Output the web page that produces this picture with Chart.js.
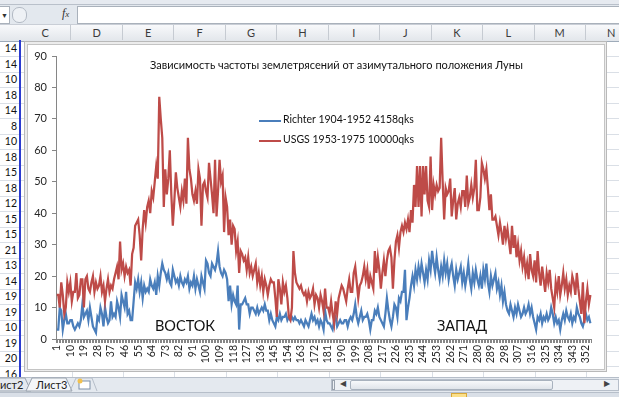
<!DOCTYPE html>
<html>
<head>
<meta charset="utf-8">
<script src="https://cdn.jsdelivr.net/npm/chart.js@4.4.1/dist/chart.umd.min.js"></script>
<style>
  body { margin: 0; width: 619px; height: 397px; overflow: hidden; position: relative; background: #fff; font-family: Lato, "Open Sans", sans-serif; }
  .abs { position: absolute; }
  .hdr { position: absolute; top: 25px; height: 15px; line-height: 15px; font-size: 11px; color: #3b3b3b; text-align: center; border-right: 1px solid #c6cbd2; box-sizing: border-box; }
  .cell { position: absolute; left: 0; width: 17px; text-align: right; font-size: 10.5px; color: #111; }
  .note { position: absolute; color: #111; white-space: nowrap; }
</style>
</head>
<body>
<div id="sheet"></div>

<div class="abs" style="left:0;top:0;width:619px;height:4px;background:#e6eaf0;border-bottom:1px solid #b9c0ca;"></div>
<div class="abs" style="left:0;top:5px;width:619px;height:19px;background:#e3e8ee;"></div>
<div class="abs" style="left:0;top:6px;width:9px;height:16px;background:#fff;border:1px solid #a9b1bb;border-left:none;font-size:7px;line-height:16px;color:#333;text-align:center;">&#9660;</div>
<div class="abs" style="left:12px;top:7px;width:13px;height:14px;border:1px solid #b3bac4;border-radius:7px;background:#eef1f5;"></div>
<div class="abs" style="left:62px;top:6px;font:italic 12px 'Liberation Serif',serif;color:#333;">f<span style="font-size:9px">x</span></div>
<div class="abs" style="left:77px;top:6px;width:542px;height:16px;background:#fff;border:1px solid #a9b1bb;border-right:none;"></div>
<div class="abs" style="left:0;top:24px;width:619px;height:16px;background:linear-gradient(#f8f9fb,#e2e6eb);border-top:1px solid #c9ced6;border-bottom:1px solid #9eabb9;"></div>
<div id="heads"></div>
<div id="cells"></div>
<div class="abs" style="left:19px;top:40px;width:2px;height:337px;background:#2b3bd0;"></div>

<div class="abs" style="left:24px;top:41px;width:583px;height:331px;background:#ececec;border:1px solid #b9b9b9;box-sizing:border-box;"></div>
<div class="abs" style="left:27px;top:44px;width:578px;height:326px;background:#fff;border:1px solid #c4c4c4;box-sizing:border-box;"></div>
<canvas id="chart" class="abs" style="left:27px;top:44px;" width="578" height="326"></canvas>

<div class="note" style="left:150px;top:58px;font-size:11px;">Зависимость частоты землетрясений от азимутального положения Луны</div>
<div class="abs" style="left:259px;top:120px;width:22px;height:2px;background:#4a7ebb;"></div>
<div class="note" style="left:283px;top:113px;font-size:10.5px;">Richter 1904-1952 4158qks</div>
<div class="abs" style="left:259px;top:140px;width:22px;height:2px;background:#be4b48;"></div>
<div class="note" style="left:283px;top:133px;font-size:10.5px;">USGS 1953-1975 10000qks</div>
<div class="note" style="left:155px;top:317px;font-size:14.5px;">ВОСТОК</div>
<div class="note" style="left:437px;top:317px;font-size:14.5px;">ЗАПАД</div>

<div class="abs" style="left:0;top:377px;width:619px;height:15px;background:#e4e9ef;border-top:1px solid #b6bec9;"></div>
<svg class="abs" style="left:0;top:377px;" width="330" height="16">
  <path d="M0,1 L25,1 L31,14 M31,14 L0,14" fill="none" stroke="#9aa3ae"/>
  <path d="M26,14 L32,1 L66,1 L72,14 Z" fill="#f4f6f9" stroke="#9aa3ae"/>
  <path d="M70,14 L76,1 L92,1 L97,14" fill="none" stroke="#b6bec9"/>
  <rect x="79" y="4" width="11" height="8" fill="#fff" stroke="#7d8fa6"/>
  <circle cx="80" cy="4" r="2.5" fill="#f2c14e"/>
</svg>
<div class="note" style="left:-8px;top:378px;font-size:11px;color:#222;">Лист2</div>
<div class="note" style="left:36px;top:378px;font-size:11px;color:#222;">Лист3</div>
<div class="abs" style="left:331px;top:379px;width:288px;height:12px;background:#eef1f5;border:1px solid #b6bec9;box-sizing:border-box;"></div>
<div class="abs" style="left:332px;top:380px;width:3px;height:10px;border:1px solid #9aa3ae;box-sizing:border-box;"></div>
<div class="note" style="left:340px;top:378px;font-size:8px;color:#444;">&#9664;</div>
<div class="abs" style="left:350px;top:380px;width:203px;height:10px;background:linear-gradient(#f7f9fb,#dfe4ea);border:1px solid #a8b2be;border-radius:2px;box-sizing:border-box;"></div>
<div class="note" style="left:604px;top:378px;font-size:8px;color:#444;">&#9654;</div>
<div class="abs" style="left:0;top:392px;width:619px;height:5px;background:#d9dfe7;border-top:1px solid #b6bec9;"></div>
<div class="abs" style="left:451px;top:393px;width:14px;height:4px;background:#fbe08a;border:1px solid #d9a93a;"></div>

<script>
const categories = Array.from({ length: 355 }, (_, i) => String(i + 1));

// column B of the sheet, visible left of the chart
const sheetColumnB = [14, 14, 10, 18, 14, 8, 10, 18, 15, 18, 12, 15, 15, 21, 13, 14, 19, 19, 10, 19, 20, 16];
const columnLetters = ['C', 'D', 'E', 'F', 'G', 'H', 'I', 'J', 'K', 'L', 'M', 'N'];

const richter = [
  3, 3, 10, 9, 3, 6, 8, 5, 5, 6,
  6, 4, 3, 4, 5, 4, 6, 11, 7, 8,
  9, 6, 10, 7, 4, 3, 2, 7, 6, 10,
  8, 4, 10, 7, 5, 6, 12, 7, 8, 7,
  12, 10, 7, 14, 12, 10, 15, 8, 9, 6,
  6, 12, 18, 16, 19, 15, 18, 13, 17, 15,
  16, 15, 19, 17, 16, 18, 14, 20, 17, 21,
  24, 22, 21, 19, 21, 18, 17, 22, 20, 18,
  19, 17, 20, 18, 17, 19, 18, 20, 16, 18,
  17, 20, 16, 19, 17, 15, 20, 18, 16, 25,
  24, 21, 20, 24, 23, 22, 24, 28, 23, 21,
  20, 22, 21, 19, 12, 17, 11, 14, 12, 11,
  17, 3, 11, 11, 12, 13, 11, 11, 8, 10,
  10, 9, 8, 10, 8, 9, 10, 9, 11, 9,
  9, 6, 8, 6, 5, 4, 7, 6, 8, 6,
  7, 7, 8, 6, 7, 6, 7, 6, 7, 6,
  6, 5, 6, 5, 4, 6, 5, 4, 6, 8,
  6, 7, 5, 6, 4, 6, 5, 3, 9, 6,
  5, 5, 4, 3, 6, 7, 4, 5, 6, 5,
  5, 6, 6, 4, 6, 7, 6, 8, 11, 7,
  5, 7, 9, 6, 7, 7, 8, 6, 3, 6,
  6, 9, 8, 10, 7, 6, 5, 4, 8, 13,
  9, 6, 4, 7, 11, 10, 7, 13, 12, 15,
  15, 22, 6, 10, 13, 17, 20, 17, 22, 19,
  23, 20, 24, 21, 18, 22, 19, 25, 22, 28,
  24, 21, 26, 22, 19, 23, 20, 25, 21, 24,
  19, 22, 24, 20, 17, 22, 19, 21, 23, 18,
  21, 17, 20, 24, 19, 16, 21, 18, 22, 19,
  17, 20, 16, 22, 19, 24, 18, 15, 20, 17,
  19, 21, 16, 18, 14, 17, 12, 15, 11, 9,
  8, 11, 9, 7, 10, 8, 11, 9, 7, 8,
  10, 8, 9, 11, 8, 10, 7, 5, 3, 7,
  6, 8, 5, 7, 6, 8, 6, 7, 10, 8,
  5, 7, 5, 6, 3, 6, 8, 6, 9, 7,
  6, 8, 5, 7, 6, 10, 8, 7, 5, 4,
  6, 8, 6, 7, 5
];

const usgs = [
  14, 14, 10, 18, 14, 8, 10, 18, 15, 18,
  12, 15, 15, 21, 13, 14, 19, 19, 10, 19,
  20, 16, 15, 18, 20, 15, 18, 16, 17, 20,
  15, 17, 12, 16, 19, 15, 17, 16, 19, 21,
  23, 19, 31, 22, 24, 20, 23, 21, 22, 17,
  27, 29, 36, 37, 38, 33, 25, 35, 41, 37,
  42, 44, 40, 47, 45, 50, 55, 51, 77, 70,
  64, 42, 54, 46, 51, 60, 46, 36, 44, 53,
  48, 45, 42, 47, 44, 51, 43, 64, 54, 51,
  46, 44, 47, 43, 54, 51, 36, 49, 50, 47,
  45, 56, 51, 46, 40, 57, 39, 47, 57, 50,
  52, 34, 45, 42, 33, 38, 30, 36, 35, 28,
  31, 21, 28, 27, 25, 26, 22, 26, 21, 23,
  20, 22, 24, 18, 21, 17, 20, 15, 19, 17,
  14, 17, 19, 18, 18, 13, 7, 19, 16, 11,
  18, 15, 17, 13, 7, 6, 10, 28, 21, 18,
  17, 16, 17, 15, 14, 15, 12, 15, 13, 14,
  16, 11, 14, 13, 10, 14, 12, 9, 16, 10,
  10, 8, 12, 8, 5, 12, 8, 13, 15, 17,
  16, 14, 12, 16, 19, 15, 15, 21, 23, 18,
  13, 17, 18, 20, 23, 19, 22, 16, 20, 18,
  16, 28, 21, 26, 22, 16, 21, 25, 20, 25,
  28, 29, 26, 16, 25, 31, 33, 29, 34, 36,
  34, 37, 35, 38, 34, 41, 37, 49, 42, 55,
  42, 55, 39, 55, 46, 55, 44, 42, 58, 41,
  49, 46, 49, 47, 48, 64, 50, 38, 48, 46,
  47, 51, 39, 44, 48, 38, 43, 45, 42, 47,
  47, 42, 52, 43, 45, 49, 45, 48, 57, 41,
  41, 45, 56, 54, 51, 54, 48, 41, 46, 38,
  38, 39, 36, 33, 37, 34, 30, 36, 32, 35,
  31, 27, 36, 29, 33, 26, 30, 25, 28, 23,
  26, 21, 24, 19, 27, 22, 20, 25, 18, 28,
  21, 17, 23, 19, 15, 21, 18, 22, 16, 13,
  10, 18, 15, 20, 14, 17, 21, 16, 19, 14,
  17, 15, 20, 18, 14, 21, 16, 12, 8, 18,
  5, 12, 16, 11, 14
];

(function buildSheet() {
  const sheet = document.getElementById('sheet');
  const heads = document.getElementById('heads');
  const cells = document.getElementById('cells');
  const colW = 51.45;
  let html = '';
  for (let k = 0; k < 24; k++) {
    html += `<div class="abs" style="left:0;top:${(40.5 + k * 15.5).toFixed(1)}px;width:619px;height:1px;background:#dadfe6"></div>`;
  }
  for (let k = 0; k < 13; k++) {
    html += `<div class="abs" style="left:${(20 + k * colW).toFixed(1)}px;top:41px;width:1px;height:336px;background:#dadfe6"></div>`;
  }
  sheet.innerHTML = html;
  heads.innerHTML = columnLetters.map((c, k) =>
    `<div class="hdr" style="left:${(20 + k * colW).toFixed(1)}px;width:${colW}px">${c}</div>`).join('');
  cells.innerHTML = sheetColumnB.map((v, k) =>
    `<div class="cell" style="top:${(41 + k * 15.5).toFixed(1)}px;height:15px;line-height:15px">${v}</div>`).join('');
}());

Chart.defaults.font.family = 'Lato, "Open Sans", sans-serif';

new Chart(document.getElementById('chart'), {
  type: 'line',
  data: {
    labels: categories,
    datasets: [
      { label: 'Richter 1904-1952 4158qks', data: richter, borderColor: '#4a7ebb', borderWidth: 2.25, pointRadius: 0, tension: 0, order: 1 },
      { label: 'USGS 1953-1975 10000qks', data: usgs, borderColor: '#be4b48', borderWidth: 2.25, pointRadius: 0, tension: 0, order: 0 },
    ],
  },
  options: {
    responsive: false, animation: false, events: [],
    layout: { padding: { top: 12, right: 6, bottom: 0, left: 0 } },
    plugins: { legend: { display: false }, tooltip: { enabled: false } },
    scales: {
      x: {
        offset: true,
        grid: { offset: true, drawOnChartArea: false, tickLength: 4, color: '#868686' },
        border: { color: '#868686' },
        ticks: { autoSkip: false, minRotation: 90, maxRotation: 90, padding: 2, color: '#262626', font: { size: 10.5 },
          callback: (v, i) => (i % 9 === 0 ? categories[i] : '') },
        afterFit: (s) => { s.height = 31; },
      },
      y: {
        min: 0, max: 90,
        grid: { drawOnChartArea: false, tickLength: 4, color: '#868686' },
        border: { color: '#868686' },
        ticks: { stepSize: 10, padding: 5, color: '#262626', font: { size: 11 } },
        afterFit: (s) => { s.width = 29; },
      },
    },
  },
});
</script>
</body>
</html>
